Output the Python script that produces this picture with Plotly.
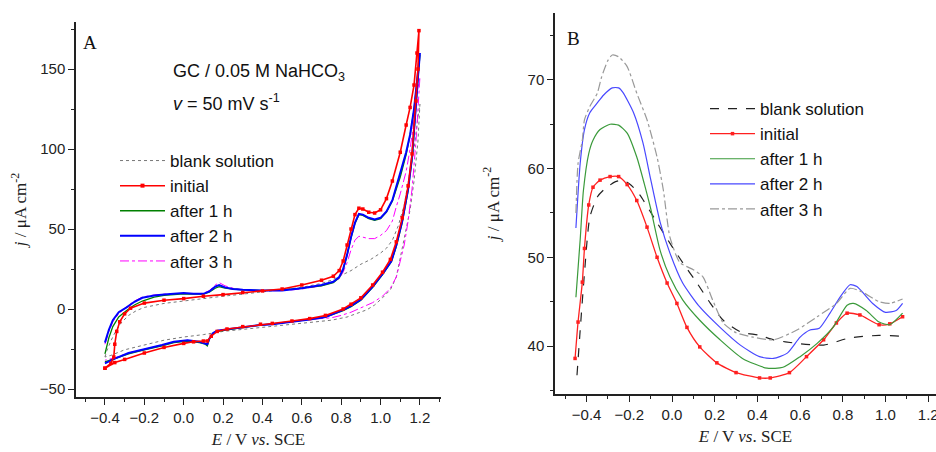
import plotly.graph_objects as go

W, H = 936, 452

# ---------------- Panel A : cyclic voltammograms ----------------
# blank solution
a_blank_E = [-0.40, -0.39, -0.37, -0.35, -0.32, -0.28, -0.24, -0.20, -0.10, 0.00, 0.10, 0.20, 0.30, 0.40, 0.50, 0.60,
             0.70, 0.75, 0.80, 0.85, 0.90, 0.95, 1.00, 1.03, 1.06, 1.09, 1.12, 1.15, 1.17, 1.19, 1.20,
             1.19, 1.17, 1.15, 1.12, 1.10, 1.08, 1.05, 1.01, 0.97, 0.93, 0.88, 0.83, 0.75, 0.60, 0.40, 0.20,
             0.10, 0.00, -0.10, -0.20, -0.30, -0.37, -0.40]
a_blank_j = [-30, -26, -20, -15, -9, -4, -1, 1, 3.5, 5, 6.8, 8, 9.3, 10.6, 12, 13.5,
             16, 18, 21, 24, 28, 31, 35, 38, 43, 52, 65, 85, 100, 120, 128,
             105, 80, 62, 45, 32, 20, 12, 7, 2.5, -0.5, -3, -5, -7, -9, -11.5, -14,
             -16, -17.5, -19.5, -22.5, -25.5, -29, -30]

# initial
a_init_E = [-0.40, -0.37, -0.355, -0.35, -0.34, -0.325, -0.30, -0.27, -0.20, -0.10, 0.00, 0.10, 0.20, 0.30, 0.40,
            0.50, 0.60, 0.70, 0.76, 0.79, 0.81, 0.83, 0.85, 0.87, 0.89, 0.91, 0.94, 0.97, 1.00, 1.03, 1.06,
            1.10, 1.13, 1.15, 1.17, 1.185, 1.195,
            1.19, 1.18, 1.16, 1.14, 1.11, 1.08, 1.05, 1.01, 0.96, 0.90, 0.85, 0.81, 0.72, 0.64, 0.55, 0.45,
            0.39, 0.30, 0.22, 0.17, 0.14, 0.12, 0.10, 0.05, 0.00, -0.10, -0.20, -0.30, -0.35, -0.40]
a_init_j = [-37, -34, -30, -22, -14, -8, -3, 0.5, 3.7, 5.5, 6.5, 8, 9, 10.3, 11.3,
            12.5, 15, 18, 20.5, 24, 30, 40, 50, 59, 63, 62.5, 60.5, 60, 62, 69, 80,
            98, 115, 126, 140, 160, 174,
            150, 130, 97, 77, 57, 42, 31, 23, 15, 7, 3, 0, -4, -6, -7.5, -9,
            -9.5, -11, -12.5, -14, -17, -20, -20, -20.5, -21.5, -24, -27.5, -31.5, -33.5, -37]

# after 1 h
a_1h_E = [-0.40, -0.38, -0.36, -0.33, -0.29, -0.25, -0.21, -0.15, -0.10, -0.05, 0.00, 0.05, 0.10, 0.13, 0.16, 0.18,
          0.21, 0.25, 0.30, 0.40, 0.50, 0.60, 0.70, 0.76, 0.79, 0.81, 0.83, 0.85, 0.87, 0.89, 0.91, 0.94, 0.97,
          1.00, 1.03, 1.06, 1.10, 1.13, 1.15, 1.17, 1.19, 1.20,
          1.19, 1.18, 1.16, 1.14, 1.11, 1.08, 1.055, 1.01, 0.96, 0.90, 0.85, 0.81, 0.72, 0.64, 0.55, 0.45,
          0.39, 0.30, 0.22, 0.17, 0.15, 0.13, 0.12, 0.11, 0.08, 0.02, -0.05, -0.11, -0.20, -0.28, -0.35, -0.39, -0.40]
a_1h_j = [-28, -18, -11, -5, -1, 2.5, 5, 7.5, 8.5, 9, 9.5, 9.3, 9.3, 10.5, 13, 14,
          13, 12.5, 12, 11.5, 12, 13, 14.5, 16.5, 19.5, 24.5, 33.5, 44.5, 53.5, 59, 58.5, 56.5, 55.5,
          56.5, 60.5, 67.5, 82.5, 96.5, 108.5, 124.5, 147.5, 159,
          144, 127, 94, 74, 54, 39, 29.5, 21.5, 13.5, 5.5, 1.5, -1, -5, -6.5, -8, -9.5,
          -10, -11.5, -13, -14, -15, -19, -23, -22, -21, -20, -21, -23, -25.5, -28, -31, -32.5, -33]

# after 2 h
a_2h_E = [-0.40, -0.38, -0.36, -0.33, -0.29, -0.25, -0.21, -0.15, -0.10, -0.05, 0.00, 0.05, 0.10, 0.13, 0.16, 0.18,
          0.21, 0.25, 0.30, 0.40, 0.50, 0.60, 0.70, 0.76, 0.79, 0.81, 0.83, 0.85, 0.87, 0.89, 0.91, 0.94, 0.97,
          1.00, 1.03, 1.06, 1.10, 1.13, 1.15, 1.17, 1.19, 1.20,
          1.19, 1.18, 1.16, 1.14, 1.11, 1.08, 1.055, 1.01, 0.96, 0.90, 0.85, 0.81, 0.72, 0.64, 0.55, 0.45,
          0.39, 0.30, 0.22, 0.17, 0.15, 0.13, 0.12, 0.11, 0.08, 0.02, -0.05, -0.11, -0.20, -0.28, -0.35, -0.39, -0.40]
a_2h_j = [-21, -13, -7, -2, 1, 4.5, 7, 8.5, 9, 9.5, 10, 9.5, 9.5, 11, 14, 15,
          13.5, 12.5, 12, 11.5, 11.5, 13, 15, 17, 20, 25, 34, 45, 54, 59.5, 59, 57, 56,
          57, 61, 68, 85, 98, 109, 125, 148, 160,
          145, 128, 95, 75, 55, 40, 30, 22, 14, 6, 2, -0.5, -5, -6.5, -8, -9.5,
          -10, -11.5, -12.5, -13.5, -15, -18.5, -22, -21.5, -20.5, -19.5, -20.5, -22.5, -25, -27.5, -31, -33.5, -34]

# after 3 h
a_3h_E = [-0.40, -0.38, -0.36, -0.33, -0.29, -0.25, -0.21, -0.15, -0.10, -0.05, 0.00, 0.05, 0.10, 0.13, 0.16, 0.18,
          0.21, 0.25, 0.30, 0.40, 0.50, 0.60, 0.70, 0.76, 0.79, 0.81, 0.83, 0.85, 0.87, 0.89, 0.91, 0.94, 0.97,
          1.00, 1.03, 1.06, 1.08, 1.10, 1.13, 1.15, 1.17, 1.185, 1.20,
          1.19, 1.18, 1.16, 1.14, 1.12, 1.10, 1.08, 1.05, 1.01, 0.96, 0.90, 0.85, 0.80, 0.75, 0.64, 0.55, 0.45,
          0.39, 0.30, 0.22, 0.17, 0.15, 0.13, 0.12, 0.11, 0.08, 0.02, -0.05, -0.11, -0.20, -0.28, -0.35, -0.39, -0.40]
a_3h_j = [-22, -14, -8, -3, 1.5, 5, 7.5, 8.8, 9.3, 9.5, 9.8, 9.5, 9.8, 11.5, 15, 16.5,
          14.5, 13, 12, 11.5, 11.5, 12.5, 14.5, 17, 19, 23, 29, 37, 43, 45.5, 45, 44, 44,
          46, 49, 55, 64, 72, 86, 100, 118, 135, 145,
          125, 105, 75, 55, 40, 30, 20, 13, 8, 4, 0.5, -2, -4, -5.5, -6.5, -8, -9.5,
          -10, -11.5, -12.5, -13.5, -15, -18.5, -22, -21.5, -20.5, -19.5, -20.5, -22.5, -25, -27.5, -30.5, -32, -32]

# ---------------- Panel B ----------------
b_blank_E = [-0.445, -0.43, -0.41, -0.385, -0.35, -0.32, -0.267, -0.23, -0.19, -0.15, -0.07, -0.01, 0.05, 0.117,
             0.18, 0.24, 0.32, 0.41, 0.475, 0.585, 0.71, 0.83, 0.97, 1.07, 1.09]
b_blank_j = [36.7, 41.8, 48.2, 54.5, 56.8, 57.6, 58.5, 58.7, 58.1, 57.0, 53.9, 51.6, 49.4, 47.1,
             44.8, 42.9, 41.6, 41.2, 40.7, 40.3, 40.1, 40.9, 41.2, 41.1, 41.0]

b_init_E = [-0.454, -0.44, -0.42, -0.41, -0.39, -0.37, -0.337, -0.29, -0.25, -0.21, -0.165, -0.117, -0.07, -0.023,
            0.023, 0.07, 0.13, 0.21, 0.30, 0.41, 0.46, 0.55, 0.63, 0.71, 0.77, 0.82, 0.88, 0.97, 1.02, 1.08]
b_init_j = [38.6, 42.7, 47.2, 51.0, 55.9, 57.9, 58.7, 59.1, 59.1, 58.2, 56.4, 53.4, 50.0, 47.1,
            44.8, 42.1, 39.9, 38.1, 37.0, 36.4, 36.4, 37.0, 38.8, 40.7, 42.6, 43.7, 43.5, 42.4, 42.5, 43.3]

b_1h_E = [-0.45, -0.43, -0.415, -0.39, -0.37, -0.337, -0.29, -0.25, -0.21, -0.165, -0.13, -0.10, -0.056, -0.01,
          0.05, 0.13, 0.225, 0.33, 0.445, 0.52, 0.60, 0.68, 0.754, 0.82, 0.85, 0.91, 0.97, 1.02, 1.08]
b_1h_j = [45.5, 52.0, 57.5, 61.7, 63.2, 64.4, 65.0, 64.9, 64.0, 61.3, 58.3, 55.5, 50.8, 47.8,
          45.2, 42.9, 40.7, 38.6, 37.5, 37.6, 38.8, 40.3, 42.1, 44.6, 44.8, 44.0, 42.7, 42.4, 43.7]

b_2h_E = [-0.45, -0.43, -0.41, -0.385, -0.35, -0.32, -0.28, -0.25, -0.23, -0.18, -0.136, -0.10, -0.056, -0.01,
          0.05, 0.13, 0.225, 0.32, 0.41, 0.475, 0.54, 0.60, 0.646, 0.69, 0.74, 0.787, 0.834, 0.866, 0.94,
          1.00, 1.05, 1.08]
b_2h_j = [53.3, 60.6, 64.4, 66.3, 67.4, 68.3, 69.1, 69.1, 68.6, 66.3, 62.9, 58.8, 54.0, 50.5,
          47.1, 44.4, 42.1, 40.1, 38.8, 38.6, 39.2, 41.0, 41.8, 42.0, 43.7, 45.5, 46.9, 46.7, 44.8,
          43.8, 44.0, 44.8]

b_3h_E = [-0.45, -0.44, -0.42, -0.41, -0.385, -0.35, -0.33, -0.30, -0.28, -0.25, -0.21, -0.165, -0.117, -0.07,
          -0.04, -0.01, 0.037, 0.10, 0.145, 0.19, 0.24, 0.30, 0.38, 0.475, 0.585, 0.68, 0.77, 0.834, 0.89,
          0.97, 1.02, 1.08]
b_3h_j = [55.0, 60.6, 63.2, 65.5, 67.0, 68.5, 70.3, 72.2, 72.8, 72.6, 71.5, 68.5, 65.5, 61.3,
          57.5, 52.3, 49.4, 48.6, 47.8, 45.2, 42.6, 41.5, 41.0, 40.7, 41.8, 43.3, 44.8, 46.5, 46.1,
          45.0, 44.8, 45.3]

names = ["blank solution", "initial", "after 1 h", "after 2 h", "after 3 h"]

fig = go.Figure()

# Panel A traces
fig.add_trace(go.Scatter(x=a_blank_E, y=a_blank_j, name=names[0], mode="lines",
                         line=dict(color="#777777", width=1, dash="dot"), legend="legend", xaxis="x", yaxis="y"))
fig.add_trace(go.Scatter(x=a_3h_E, y=a_3h_j, name=names[4], mode="lines", showlegend=False,
                         line=dict(color="#ff00ff", width=1, dash="dashdot"), xaxis="x", yaxis="y"))
fig.add_trace(go.Scatter(x=a_1h_E, y=a_1h_j, name=names[2], mode="lines", showlegend=False,
                         line=dict(color="#008000", width=1.3), xaxis="x", yaxis="y"))
fig.add_trace(go.Scatter(x=a_2h_E, y=a_2h_j, name=names[3], mode="lines", showlegend=False,
                         line=dict(color="#0000ff", width=2), xaxis="x", yaxis="y"))
fig.add_trace(go.Scatter(x=a_init_E, y=a_init_j, name=names[1], mode="lines+markers", showlegend=False,
                         line=dict(color="#ff0000", width=1.6), marker=dict(symbol="square", size=3.5, color="#ff0000"),
                         xaxis="x", yaxis="y"))
# legend entries for A (ordered)
for nm, ln, mk in [
    (names[1], dict(color="#ff0000", width=1.5), dict(symbol="square", size=4, color="#ff0000")),
    (names[2], dict(color="#008000", width=1.5), None),
    (names[3], dict(color="#0000ff", width=2), None),
    (names[4], dict(color="#ff00ff", width=1, dash="dashdot"), None),
]:
    fig.add_trace(go.Scatter(x=[None], y=[None], name=nm, mode="lines+markers" if mk else "lines",
                             line=ln, marker=mk, legend="legend", xaxis="x", yaxis="y"))

# Panel B traces
b_specs = [
    (b_blank_E, b_blank_j, names[0], dict(color="#222222", width=1.2, dash="dash"), None),
    (b_init_E, b_init_j, names[1], dict(color="#ff2020", width=1.3), dict(symbol="square", size=3.5, color="#ff2020")),
    (b_1h_E, b_1h_j, names[2], dict(color="#3a9a3a", width=1.2), None),
    (b_2h_E, b_2h_j, names[3], dict(color="#4848ff", width=1.2), None),
    (b_3h_E, b_3h_j, names[4], dict(color="#999999", width=1.2, dash="dashdot"), None),
]
for ex, jy, nm, ln, mk in b_specs:
    ln = dict(ln, shape="spline", smoothing=0.6)
    fig.add_trace(go.Scatter(x=ex, y=jy, name=nm, mode="lines+markers" if mk else "lines",
                             line=ln, marker=mk, legend="legend2", xaxis="x2", yaxis="y2"))

tickfont = dict(family="Liberation Sans, Arial", size=15, color="#222222")
titlefont = dict(family="Liberation Serif, Times New Roman", size=17, color="#222222")
xtitle = "<i>E</i> / V <i>vs</i>. SCE"
ytitle = "<i>j</i> / μA cm<sup>-2</sup>"

common_axis = dict(showgrid=False, zeroline=False, showline=True, linecolor="#222222", linewidth=1.5,
                   ticks="outside", ticklen=6, tickwidth=1.2, tickcolor="#222222", tickfont=tickfont)
legfont = dict(family="Liberation Sans, Arial", size=17, color="#111111")

fig.update_layout(
    width=W, height=H, margin=dict(l=0, r=0, t=0, b=0, autoexpand=False),
    paper_bgcolor="white", plot_bgcolor="white",
    xaxis=dict(common_axis, domain=[76 / W, 441 / W], range=[-0.547, 1.307], tick0=-0.4, dtick=0.2,
               tickformat=".1f", minor=dict(dtick=0.1, tick0=-0.5, ticks="outside", ticklen=3, tickcolor="#222222"),
               title=dict(text=xtitle, font=titlefont, standoff=8), anchor="y"),
    yaxis=dict(common_axis, domain=[1 - 397 / H, 1 - 22 / H], range=[-55, 179.4], tick0=0, dtick=50,
               minor=dict(dtick=25, ticks="outside", ticklen=3, tickcolor="#222222"),
               title=dict(text=ytitle, font=titlefont, standoff=9), anchor="x"),
    xaxis2=dict(common_axis, domain=[555 / W, 1.0], range=[-0.548, 1.2365], tick0=-0.4, dtick=0.2,
                tickformat=".1f", ticklabeloverflow="allow",
                minor=dict(dtick=0.1, tick0=-0.5, ticks="outside", ticklen=3, tickcolor="#222222"),
                title=dict(text=xtitle, font=titlefont, standoff=8), anchor="y2"),
    yaxis2=dict(common_axis, domain=[1 - 394 / H, 1 - 13 / H], range=[34.59, 77.54], tick0=0, dtick=10,
                minor=dict(dtick=5, ticks="outside", ticklen=3, tickcolor="#222222"),
                title=dict(text=ytitle, font=titlefont, standoff=24), anchor="x2"),
    legend=dict(x=115 / W, y=1 - 143 / H, xanchor="left", yanchor="top", bgcolor="rgba(0,0,0,0)",
                font=legfont, itemwidth=45, tracegroupgap=0),
    legend2=dict(x=705 / W, y=1 - 91 / H, xanchor="left", yanchor="top", bgcolor="rgba(0,0,0,0)",
                 font=legfont, itemwidth=45, tracegroupgap=0),
    annotations=[
        dict(text="A", x=90 / W, y=1 - 42 / H, xref="paper", yref="paper", showarrow=False,
             xanchor="center", yanchor="middle",
             font=dict(family="Liberation Serif", size=19, color="#111111")),
        dict(text="B", x=573 / W, y=1 - 38 / H, xref="paper", yref="paper", showarrow=False,
             xanchor="center", yanchor="middle",
             font=dict(family="Liberation Serif", size=19, color="#111111")),
        dict(text="GC / 0.05 M NaHCO<sub>3</sub>", x=171 / W, y=1 - 72 / H, xref="paper", yref="paper",
             xanchor="left", yanchor="middle", showarrow=False,
             font=dict(family="Liberation Sans, Arial", size=18, color="#111111")),
        dict(text="<i>v</i> = 50 mV s<sup>-1</sup>", x=171 / W, y=1 - 103 / H, xref="paper", yref="paper",
             xanchor="left", yanchor="middle", showarrow=False,
             font=dict(family="Liberation Sans, Arial", size=18, color="#111111")),
    ],
)

fig.write_html("out.html", config={"displayModeBar": False},
               post_script="document.body.style.margin='0';document.body.style.overflow='hidden';")
